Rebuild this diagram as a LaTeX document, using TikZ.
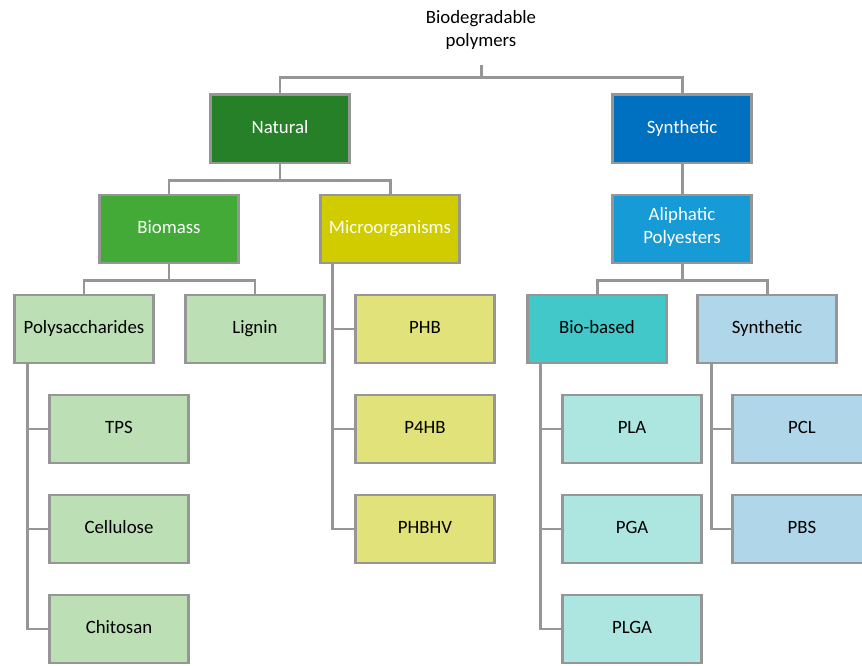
\documentclass[tikz,border=0pt]{standalone}
\usepackage{fontspec}
\setmainfont{Carlito}
\usetikzlibrary{calc}
\definecolor{linegray}{RGB}{150,150,150}
\definecolor{natgreen}{RGB}{38,128,40}
\definecolor{biogreen}{RGB}{67,170,56}
\definecolor{microyellow}{RGB}{208,204,0}
\definecolor{synblue}{RGB}{0,112,192}
\definecolor{aliblue}{RGB}{22,155,215}
\definecolor{palegreen}{RGB}{188,223,182}
\definecolor{paleyellow}{RGB}{226,226,122}
\definecolor{biocyan}{RGB}{66,200,200}
\definecolor{palecyan}{RGB}{173,229,225}
\definecolor{paleblue}{RGB}{176,214,234}
\tikzstyle{box} = [rectangle, minimum width=2.78cm, minimum height=1.36cm,
    text centered, align=center, draw=linegray, line width=1.7pt,
    font=\fontsize{10.7}{13}\selectfont, execute at begin node=\strut]
\tikzstyle{darkbox} = [box, text=white]
\tikzstyle{link} = [draw=linegray, line width=1.7pt]

\begin{document}
\begin{tikzpicture}[node distance=2cm]
    \useasboundingbox (0,0) rectangle (17.24,-13.32);
    \clip (0,0) rectangle (17.24,-13.32);
    % header node
    \node (Root) [align=center, minimum height=1.4cm, font=\fontsize{10.7}{13}\selectfont] at (9.62,-0.6) {Biodegradable\\polymers};

    % first level
    \node (Natural) [darkbox, fill=natgreen] at (5.6,-2.58) {Natural};
    \node (Synthetic) [darkbox, fill=synblue, right of=Natural, xshift=6.04cm] {Synthetic};

    % second level
    \node (Biomass) [darkbox, fill=biogreen, below of=Natural, xshift=-2.22cm] {Biomass};
    \node (Microorganisms) [darkbox, fill=microyellow, below of=Natural, xshift=2.2cm] {Microorganisms};
    \node (Aliphatic) [darkbox, fill=aliblue, below of=Synthetic] {Aliphatic\\Polyesters};

    % third level
    \node (Polysaccharides) [box, fill=palegreen, below of=Biomass, xshift=-1.7cm] {Polysaccharides};
    \node (Lignin) [box, fill=palegreen, below of=Biomass, xshift=1.72cm] {Lignin};
    \node (PHB) [box, fill=paleyellow, below of=Microorganisms, xshift=0.7cm] {PHB};
    \node (BioBased) [box, fill=biocyan, below of=Aliphatic, xshift=-1.7cm] {Bio-based};
    \node (SynPoly) [box, fill=paleblue, below of=Aliphatic, xshift=1.7cm] {Synthetic};

    % leaves
    \node (TPS) [box, fill=palegreen, below of=Polysaccharides, xshift=0.7cm] {TPS};
    \node (Cellulose) [box, fill=palegreen, below of=TPS] {Cellulose};
    \node (Chitosan) [box, fill=palegreen, below of=Cellulose] {Chitosan};
    \node (P4HB) [box, fill=paleyellow, below of=PHB] {P4HB};
    \node (PHBHV) [box, fill=paleyellow, below of=P4HB] {PHBHV};
    \node (PLA) [box, fill=palecyan, below of=BioBased, xshift=0.7cm] {PLA};
    \node (PGA) [box, fill=palecyan, below of=PLA] {PGA};
    \node (PLGA) [box, fill=palecyan, below of=PGA] {PLGA};
    \node (PCL) [box, fill=paleblue, below of=SynPoly, xshift=0.7cm] {PCL};
    \node (PBS) [box, fill=paleblue, below of=PCL] {PBS};

    % tree lines
    \draw [link] (Root.south) -- ++(0,-0.24) -| (Natural.north);
    \draw [link] (Root.south) -- ++(0,-0.24) -| (Synthetic.north);
    \draw [link] (Natural.south) -- ++(0,-0.32) -| (Biomass.north);
    \draw [link] (Natural.south) -- ++(0,-0.32) -| (Microorganisms.north);
    \draw [link] (Synthetic) -- (Aliphatic);
    \draw [link] (Biomass.south) -- ++(0,-0.32) -| (Polysaccharides.north);
    \draw [link] (Biomass.south) -- ++(0,-0.32) -| (Lignin.north);
    \draw [link] (Aliphatic.south) -- ++(0,-0.32) -| (BioBased.north);
    \draw [link] (Aliphatic.south) -- ++(0,-0.32) -| (SynPoly.north);

    % side lines
    \draw [link] ([xshift=0.28cm]Polysaccharides.south west) |- (TPS);
    \draw [link] ([xshift=0.28cm]Polysaccharides.south west) |- (Cellulose);
    \draw [link] ([xshift=0.28cm]Polysaccharides.south west) |- (Chitosan);
    \draw [link] ([xshift=0.26cm]Microorganisms.south west) |- (PHB);
    \draw [link] ([xshift=0.26cm]Microorganisms.south west) |- (P4HB);
    \draw [link] ([xshift=0.26cm]Microorganisms.south west) |- (PHBHV);
    \draw [link] ([xshift=0.28cm]BioBased.south west) |- (PLA);
    \draw [link] ([xshift=0.28cm]BioBased.south west) |- (PGA);
    \draw [link] ([xshift=0.28cm]BioBased.south west) |- (PLGA);
    \draw [link] ([xshift=0.3cm]SynPoly.south west) |- (PCL);
    \draw [link] ([xshift=0.3cm]SynPoly.south west) |- (PBS);
\end{tikzpicture}
\end{document}
